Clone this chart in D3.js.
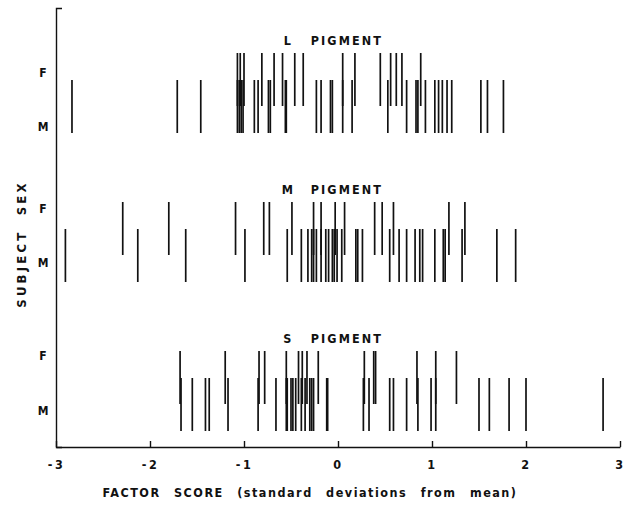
<!DOCTYPE html>
<html>
<head>
<meta charset="utf-8">
<script src="https://cdn.jsdelivr.net/npm/d3@7"></script>
<style>
  body { margin: 0; background: #fff; }
  svg { display: block; }
  text { font-family: "DejaVu Sans Condensed", "DejaVu Sans", sans-serif; font-weight: bold; fill: #111; }
  .axis path, .axis line { stroke: #111; stroke-width: 1.4; fill: none; }
  .tick-mark { stroke: #111; stroke-width: 1.7; }
</style>
</head>
<body>
<svg id="chart"></svg>
<script>
// factor scores, one array per pigment and sex
const pigments = ['L', 'M', 'S'];
const sexes = ['F', 'M'];
const xTicks = [-3, -2, -1, 0, 1, 2, 3];
const tickLabels = ['-3', '-2', '-1', '0', '1', '2', '3'];

const lPigmentF = [-1.07, -1.04, -1.00, -0.81, -0.68, -0.59, -0.46, -0.37, 0.05, 0.18,
                   0.45, 0.56, 0.62, 0.68, 0.88];
const lPigmentM = [-2.83, -1.71, -1.46, -1.07, -1.05, -1.03, -1.01, -0.89, -0.85, -0.74,
                   -0.72, -0.56, -0.55, -0.23, -0.18, -0.08, -0.06, 0.05, 0.15, 0.53,
                   0.73, 0.83, 0.85, 0.93, 1.03, 1.07, 1.11, 1.16, 1.21, 1.52, 1.59, 1.76];
const mPigmentF = [-2.29, -1.80, -1.09, -0.79, -0.73, -0.49, -0.26, -0.18, -0.03, 0.07,
                   0.39, 0.47, 0.59, 1.18, 1.35];
const mPigmentM = [-2.90, -2.13, -1.62, -0.99, -0.54, -0.39, -0.32, -0.28, -0.26, -0.23,
                   -0.18, -0.13, -0.10, -0.06, -0.04, -0.01, 0.04, 0.19, 0.21, 0.26,
                   0.55, 0.65, 0.73, 0.82, 0.87, 0.90, 1.03, 1.12, 1.14, 1.32, 1.69, 1.89];
const sPigmentF = [-1.68, -1.20, -0.84, -0.78, -0.55, -0.42, -0.38, -0.33, -0.21, 0.28,
                   0.38, 0.40, 0.84, 1.04, 1.26];
const sPigmentM = [-1.67, -1.55, -1.41, -1.37, -1.17, -0.85, -0.66, -0.55, -0.54, -0.50,
                   -0.48, -0.45, -0.39, -0.35, -0.30, -0.28, -0.26, -0.12, -0.11, 0.27,
                   0.33, 0.55, 0.59, 0.73, 0.85, 0.99, 1.04, 1.50, 1.61, 1.82, 2.00, 2.82];

const scores = {
  L: { F: lPigmentF, M: lPigmentM },
  M: { F: mPigmentF, M: mPigmentM },
  S: { F: sPigmentF, M: sPigmentM }
};

const width = 633, height = 507;
const axisY = 447;
const markLen = 53;

const svg = d3.select('#chart').attr('width', width).attr('height', height);

const x = d3.scaleLinear().domain([-3, 3]).range([56, 620]);
// one band per pigment panel, rows for F and M inside each band
const panel = d3.scaleBand().domain(pigments).range([40, 487]);
const row = d3.scalePoint().domain(sexes).range([13, 40]);
// label offsets (hand lettered on the original, not evenly spaced)
const labelY = { L: { F: 32, M: 86 }, M: { F: 19, M: 73 }, S: { F: 17, M: 72 } };

// x axis: ticks point up into the plot, labels below
const xAxis = d3.axisBottom(x)
  .tickValues(xTicks)
  .tickFormat((d, i) => tickLabels[i])
  .tickSizeInner(-6)
  .tickSizeOuter(0)
  .tickPadding(13);

const gx = svg.append('g')
  .attr('class', 'axis')
  .attr('transform', 'translate(0,' + axisY + ')')
  .call(xAxis);
gx.selectAll('text')
  .style('font-size', '12.5px')
  .style('letter-spacing', '2.5px');

// y axis: plain bracket, no ticks
const y = d3.scaleLinear().domain([0, 1]).range([axisY, 8]);
svg.append('g')
  .attr('class', 'axis')
  .attr('transform', 'translate(56,0)')
  .call(d3.axisLeft(y).tickValues([]).tickSizeOuter(-6));

// panels
pigments.forEach(p => {
  const top = panel(p);

  svg.append('text')
    .attr('x', x(-0.54))
    .attr('y', top + 4.5)
    .attr('text-anchor', 'middle')
    .style('font-size', '12.5px')
    .text(p);
  svg.append('text')
    .attr('x', x(-0.29))
    .attr('y', top + 4.5)
    .style('font-size', '12.5px')
    .style('letter-spacing', '2.1px')
    .text('PIGMENT');

  sexes.forEach(s => {
    svg.append('text')
      .attr('x', 43)
      .attr('y', top + labelY[p][s] + 4.5)
      .attr('text-anchor', 'middle')
      .style('font-size', '12px')
      .text(s);

    svg.selectAll(null)
      .data(scores[p][s])
      .enter()
      .append('line')
      .attr('class', 'tick-mark')
      .attr('x1', d => x(d))
      .attr('x2', d => x(d))
      .attr('y1', top + row(s))
      .attr('y2', top + row(s) + markLen);
  });
});

// axis titles
svg.append('text')
  .attr('x', 310)
  .attr('y', 497)
  .attr('text-anchor', 'middle')
  .style('font-size', '12.5px')
  .style('letter-spacing', '1.5px')
  .style('word-spacing', '8px')
  .text('FACTOR SCORE (standard deviations from mean)');

svg.append('text')
  .attr('transform', 'translate(26,244) rotate(-90)')
  .attr('text-anchor', 'middle')
  .style('font-size', '13px')
  .style('letter-spacing', '3.2px')
  .style('word-spacing', '7px')
  .text('SUBJECT SEX');
</script>
</body>
</html>
